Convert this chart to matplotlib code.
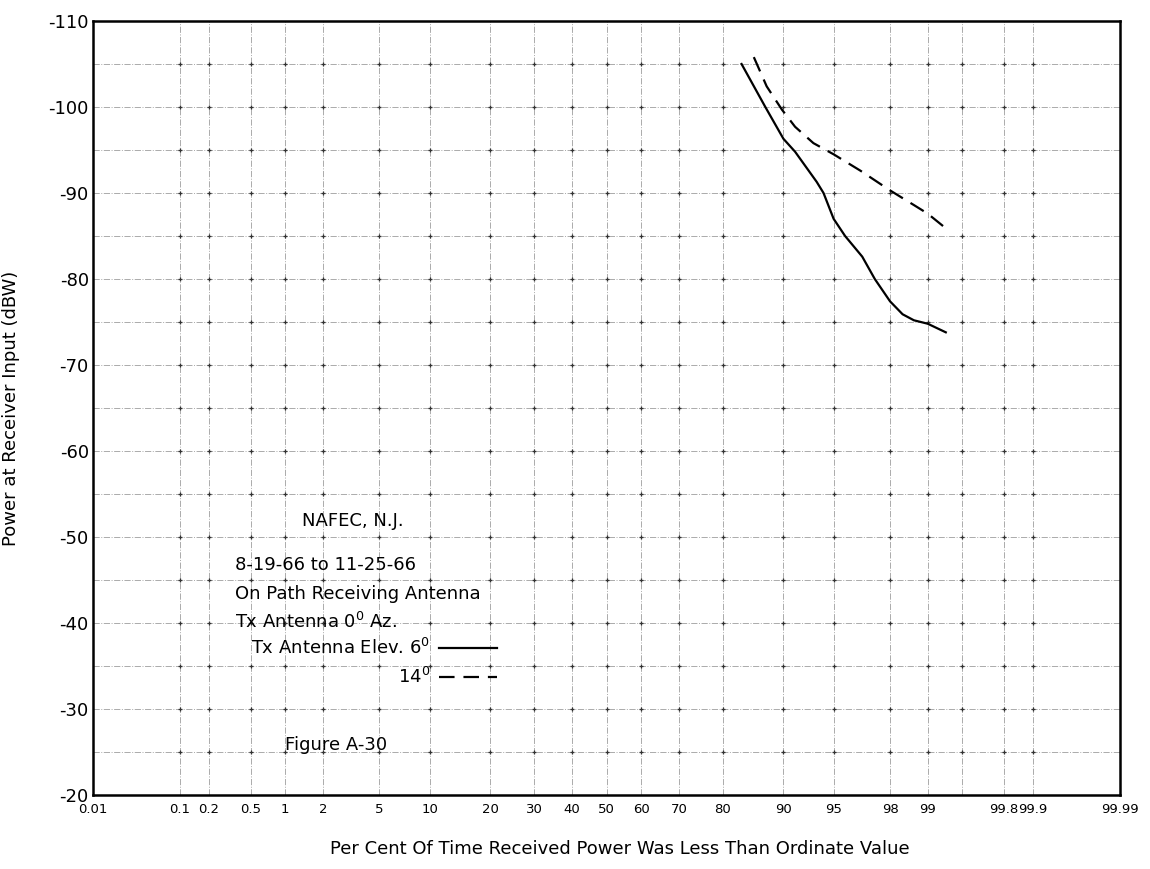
import numpy as np
import matplotlib
matplotlib.use("Agg")
import matplotlib.pyplot as plt
from statistics import NormalDist

pct_6 = [83.6, 87.5, 90.0, 91.4, 93.6, 94.2, 95.0, 95.8, 96.8, 97.4, 98.0, 98.4, 98.7, 99.0, 99.3]
dbw_6 = [-105.0, -100.0, -96.3, -94.8, -91.3, -90.0, -87.0, -85.0, -82.6, -80.0, -77.4, -75.9, -75.2, -74.8, -73.8]
pct_14 = [85.7, 87.7, 89.8, 91.4, 93.3, 95.0, 96.7, 98.0, 98.7, 99.0, 99.3]
dbw_14 = [-105.8, -102.4, -99.7, -97.7, -95.8, -94.5, -92.6, -90.3, -88.6, -87.6, -85.9]

x_ticks = [0.01, 0.1, 0.2, 0.5, 1, 2, 5, 10, 20, 30, 40, 50, 60, 70, 80, 90, 95, 98, 99, 99.8, 99.9, 99.99]
x_labels = ["0.01", "0.1", "0.2", "0.5", "1", "2", "5", "10", "20", "30", "40", "50", "60", "70", "80",
            "90", "95", "98", "99", "99.8", "99.9", "99.99"]
x_grid = [0.1, 0.2, 0.5, 1, 2, 5, 10, 20, 30, 40, 50, 60, 70, 80, 90, 95, 98, 99, 99.5, 99.8, 99.9]
y_ticks = [-110, -100, -90, -80, -70, -60, -50, -40, -30, -20]
y_grid = [-105, -100, -95, -90, -85, -80, -75, -70, -65, -60, -55, -50, -45, -40, -35, -30, -25]

notas = ["8-19-66 to 11-25-66", "On Path Receiving Antenna", "Tx Antenna 0$^{0}$ Az."]

plt.rcParams['font.family'] = ['DejaVu Sans']

# Escala de probabilidad normal (eje x en porcentaje)
_nd = NormalDist()


def a_probit(p):
    p = np.asarray(p, dtype=float)
    p = np.where(np.isfinite(p), p, 50.0)
    p = np.clip(p, 1e-7, 100 - 1e-7)
    return np.vectorize(lambda v: _nd.inv_cdf(v / 100.0), otypes=[float])(p)


def de_probit(z):
    z = np.asarray(z, dtype=float)
    z = np.where(np.isfinite(z), z, 0.0)
    return np.vectorize(lambda v: 100.0 * _nd.cdf(v), otypes=[float])(z)


fig = plt.figure(figsize=(11.5, 8.69), dpi=100)
ax = fig.add_axes([93 / 1150, 1 - 795 / 869, 1027 / 1150, 774 / 869])
ax.set_xscale('function', functions=(a_probit, de_probit))
ax.set_xlim(0.01, 99.99)
ax.set_ylim(-20, -110)

# Rejilla punteada con cruces en las intersecciones
for xv in x_grid:
    ax.axvline(xv, color='0.4', lw=0.7, ls='-.', alpha=0.55, zorder=1)
for yv in y_grid:
    ax.axhline(yv, color='0.4', lw=0.7, ls='-.', alpha=0.55, zorder=1)
gx, gy = np.meshgrid(x_grid, y_grid)
ax.plot(gx.ravel(), gy.ravel(), '+', color='0.2', ms=3.5, mew=0.9, zorder=2)

ax.plot(pct_6, dbw_6, color='black', lw=1.6, label='Tx Antenna Elev. 6$^{0}$', zorder=3)
ax.plot(pct_14, dbw_14, color='black', lw=1.6, ls=(0, (7, 4)), label='14$^{0}$', zorder=3)

ax.set_xticks(x_ticks)
ax.set_xticklabels(x_labels, fontsize=9.5)
ax.set_yticks(y_ticks)
ax.set_yticklabels([str(v) for v in y_ticks], fontsize=13)
ax.tick_params(axis='both', length=0)
ax.tick_params(axis='x', pad=6)
ax.tick_params(axis='y', pad=3)
ax.minorticks_off()

for s in ax.spines.values():
    s.set_linewidth(1.8)

ax.set_ylabel("Power at Receiver Input (dBW)", fontsize=13)
ax.yaxis.set_label_coords(-0.071, 0.5)
ax.set_xlabel("Per Cent Of Time Received Power Was Less Than Ordinate Value", fontsize=13)
ax.xaxis.set_label_coords(0.513, -0.058)

# Texto de la figura
ax.text(0.2035, 0.354, "NAFEC, N.J.", transform=ax.transAxes, fontsize=13, va='center')
for i, t in enumerate(notas):
    ax.text(0.138, 0.297 - i * 0.0368, t, transform=ax.transAxes, fontsize=13, va='center')
ax.text(0.187, 0.0646, "Figure A-30", transform=ax.transAxes, fontsize=13, va='center')

leg = ax.legend(loc='upper right', bbox_to_anchor=(0.393, 0.203), frameon=False, markerfirst=False,
                fontsize=13, borderpad=0, borderaxespad=0, handlelength=3.2, handletextpad=0.5,
                labelspacing=0.5)

fig.savefig("out.png", dpi=100)
